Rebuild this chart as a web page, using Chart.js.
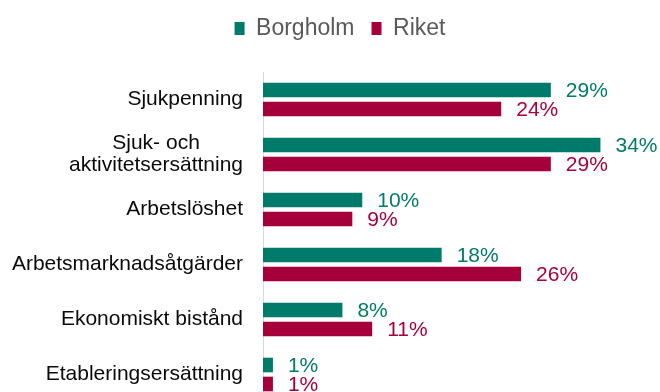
<!DOCTYPE html>
<html lang="sv">
<head>
<meta charset="UTF-8">
<title>Borgholm och riket</title>
<script src="https://cdn.jsdelivr.net/npm/chart.js@4.4.1/dist/chart.umd.min.js"></script>
<style>
    html, body { margin: 0; padding: 0; background: #fff; overflow: hidden; }
    #wrap { width: 660px; height: 404px; }
</style>
</head>
<body>
<div id="wrap"><canvas id="chart" width="660" height="404"></canvas></div>
<script>
// Chart data
const categories = [
    'Sjukpenning',
    ['Sjuk- och', 'aktivitetsersättning'],
    'Arbetslöshet',
    'Arbetsmarknadsåtgärder',
    'Ekonomiskt bistånd',
    'Etableringsersättning'
];
const seriesNames = ['Borgholm', 'Riket'];
const borgholmValues = [29, 34, 10, 18, 8, 1];
const riketValues = [24, 29, 9, 26, 11, 1];
const seriesColors = ['#007A6B', '#A6003A'];

const FONT = "'Liberation Sans', Arial, sans-serif";
const LINE_GAP = 22;

// Keep a fixed gap between the legend and the plot
const legendSpacing = {
    id: 'legendSpacing',
    beforeInit(chart) {
        const fit = chart.legend.fit;
        chart.legend.fit = function() {
            fit.call(this);
            this.height = 72;
        };
    }
};

// Category names, right aligned; wrapped names are centred line by line
const categoryLabels = {
    id: 'categoryLabels',
    afterDraw(chart) {
        const ctx = chart.ctx;
        const yScale = chart.scales.y;
        const right = chart.chartArea.left - 20;
        ctx.save();
        ctx.font = '21px ' + FONT;
        ctx.fillStyle = '#0a0a0a';
        ctx.textAlign = 'center';
        ctx.textBaseline = 'middle';
        categories.forEach((label, i) => {
            const lines = Array.isArray(label) ? label : [label];
            const widest = Math.max(...lines.map(l => ctx.measureText(l).width));
            const cx = right - widest / 2;
            const y0 = yScale.getPixelForTick(i) - (lines.length - 1) * LINE_GAP / 2;
            lines.forEach((line, j) => ctx.fillText(line, cx, y0 + j * LINE_GAP));
        });
        ctx.restore();
    }
};

// Percent labels at the end of each bar
const valueLabels = {
    id: 'valueLabels',
    afterDatasetsDraw(chart) {
        const ctx = chart.ctx;
        ctx.save();
        ctx.font = '21px ' + FONT;
        ctx.textAlign = 'left';
        ctx.textBaseline = 'middle';
        chart.data.datasets.forEach((ds, d) => {
            ctx.fillStyle = ds.backgroundColor;
            chart.getDatasetMeta(d).data.forEach((bar, i) => {
                ctx.fillText(ds.data[i] + '%', bar.x + 15, bar.y + 1);
            });
        });
        ctx.restore();
    }
};

function initializeChart() {
    const ctx = document.getElementById('chart');

    new Chart(ctx, {
        type: 'bar',
        data: {
            labels: categories,
            datasets: [{
                label: seriesNames[0],
                data: borgholmValues,
                backgroundColor: seriesColors[0],
                categoryPercentage: 0.69,
                barPercentage: 0.77
            }, {
                label: seriesNames[1],
                data: riketValues,
                backgroundColor: seriesColors[1],
                categoryPercentage: 0.69,
                barPercentage: 0.77
            }]
        },
        options: {
            responsive: false,
            animation: false,
            indexAxis: 'y',
            layout: {
                padding: { left: 20, right: 0, top: 0, bottom: 2 }
            },
            plugins: {
                legend: {
                    position: 'top',
                    labels: {
                        boxWidth: 10,
                        boxHeight: 13,
                        padding: 17,
                        color: '#595959',
                        font: { family: FONT, size: 23 }
                    }
                },
                tooltip: { enabled: false }
            },
            scales: {
                x: {
                    display: false,
                    min: 0,
                    max: 40
                },
                y: {
                    grid: { display: false },
                    border: { display: true, color: '#D9D9D9', width: 1 },
                    ticks: { display: false },
                    afterFit(scale) {
                        scale.width = 243;
                    }
                }
            }
        },
        plugins: [legendSpacing, categoryLabels, valueLabels]
    });
}

document.addEventListener('DOMContentLoaded', initializeChart);
</script>
</body>
</html>
